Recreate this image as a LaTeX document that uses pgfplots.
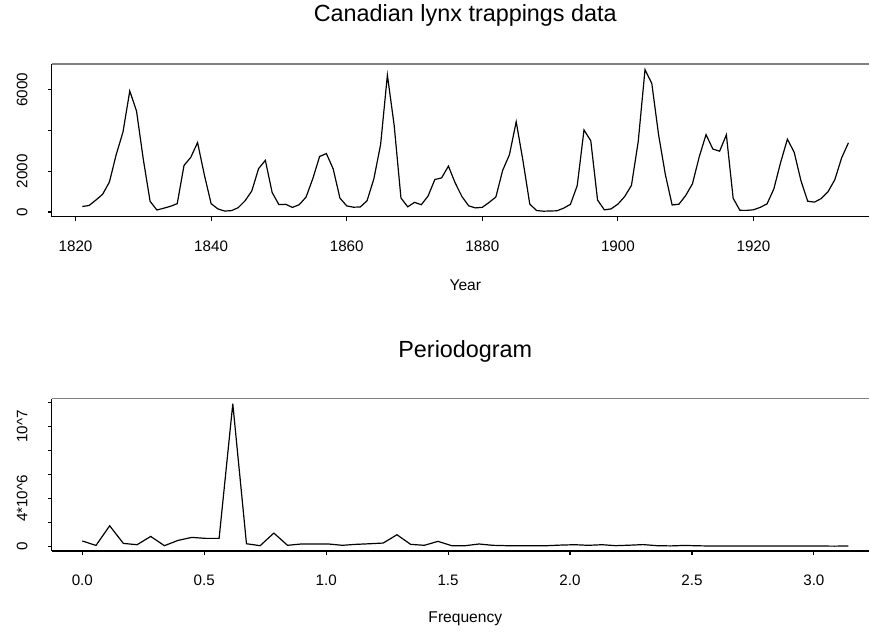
\documentclass[border=0pt]{standalone}
\usepackage{fontspec}
\setmainfont{Liberation Sans}
\usepackage{pgfplots}
\usepackage{pgfplotstable}
\pgfplotsset{compat=1.18}

\pgfplotstableread{
year lynx
1821 269
1822 321
1823 585
1824 871
1825 1475
1826 2821
1827 3928
1828 5943
1829 4950
1830 2577
1831 523
1832 98
1833 184
1834 279
1835 409
1836 2285
1837 2685
1838 3409
1839 1824
1840 409
1841 151
1842 45
1843 68
1844 213
1845 546
1846 1033
1847 2129
1848 2536
1849 957
1850 361
1851 377
1852 225
1853 360
1854 731
1855 1638
1856 2725
1857 2871
1858 2119
1859 684
1860 299
1861 236
1862 245
1863 552
1864 1623
1865 3311
1866 6721
1867 4254
1868 687
1869 255
1870 473
1871 358
1872 784
1873 1594
1874 1676
1875 2251
1876 1426
1877 756
1878 299
1879 201
1880 229
1881 469
1882 736
1883 2042
1884 2811
1885 4431
1886 2511
1887 389
1888 73
1889 39
1890 49
1891 59
1892 188
1893 377
1894 1292
1895 4031
1896 3495
1897 587
1898 105
1899 153
1900 387
1901 758
1902 1307
1903 3465
1904 6991
1905 6313
1906 3794
1907 1836
1908 345
1909 382
1910 808
1911 1388
1912 2713
1913 3800
1914 3091
1915 2985
1916 3790
1917 674
1918 81
1919 80
1920 108
1921 229
1922 399
1923 1132
1924 2432
1925 3574
1926 2935
1927 1537
1928 529
1929 485
1930 662
1931 1000
1932 1590
1933 2657
1934 3396
}\lynxdata

\pgfplotstableread{
freq pgram
0.0000 450000
0.0561 80000
0.1122 1720000
0.1683 250000
0.2244 140000
0.2805 830000
0.3366 60000
0.3927 500000
0.4488 750000
0.5049 670000
0.5610 670000
0.6171 11890000
0.6732 220000
0.7293 60000
0.7854 1110000
0.8415 90000
0.8976 200000
0.9537 200000
1.0098 200000
1.0659 90000
1.1220 170000
1.1781 220000
1.2342 280000
1.2903 970000
1.3464 170000
1.4025 90000
1.4586 420000
1.5147 60000
1.5708 60000
1.6269 200000
1.6830 90000
1.7391 60000
1.7952 60000
1.8513 60000
1.9074 60000
1.9635 110000
2.0196 140000
2.0757 90000
2.1318 140000
2.1879 60000
2.2440 100000
2.3001 150000
2.3562 60000
2.4123 40000
2.4684 80000
2.5245 50000
2.5806 30000
2.6367 30000
2.6928 30000
2.7489 30000
2.8050 30000
2.8611 30000
2.9172 40000
2.9733 40000
3.0294 30000
3.0855 20000
3.1416 40000
}\pgramdata

\pgfplotsset{
  Rstyle/.style={
    scale only axis,
    width=409.15pt,
    axis lines*=left,
    axis line style={-, line width=0.55pt},
    tick align=outside,
    major tick length=2pt,
    tick style={black, line width=0.55pt},
    clip=false,
    ticklabel style={font=\fontsize{7.6}{9}\selectfont},
    /pgf/number format/assume math mode=true,
    xticklabel style={anchor=center},
    xticklabel shift=12.8pt,
    yticklabel style={rotate=90, anchor=center},
    yticklabel shift=12.8pt,
  },
}

\begin{document}
\begin{tikzpicture}
\path (0pt,0pt) rectangle (435pt,316pt);

% ---- top panel ----
\begin{axis}[Rstyle,
  at={(25.85pt,207.5pt)}, anchor=south west,
  height=76.5pt,
  xmin=1816.48, xmax=1937.105,
  ymin=-239.08, ymax=7269.08,
  xtick={1820,1840,1860,1880,1900,1920},
  xticklabels={1820,1840,1860,1880,1900,1920},
  ytick={0,2000,4000,6000},
  yticklabels={0,2000,,6000},
]
\addplot[black, line width=0.6pt] table[x=year, y=lynx] {\lynxdata};
\draw[black!50, line width=0.55pt] (rel axis cs:0,1) -- (rel axis cs:1,1);
\end{axis}

% ---- bottom panel ----
\begin{axis}[Rstyle,
  at={(25.85pt,40.35pt)}, anchor=south west,
  height=76.15pt,
  xmin=-0.12566, xmax=3.2279,
  ymin=-380000, ymax=12310000,
  xtick={0,0.5,1,1.5,2,2.5,3},
  xticklabels={0.0,0.5,1.0,1.5,2.0,2.5,3.0},
  ytick={0,2000000,4000000,6000000,8000000,10000000,12000000},
  yticklabels={0,,4*10\textasciicircum 6,,,10\textasciicircum 7,},
  scaled ticks=false,
]
\addplot[black, line width=0.6pt] table[x=freq, y=pgram] {\pgramdata};
\draw[black!50, line width=0.55pt] (rel axis cs:0,1) -- (rel axis cs:1,1);
\end{axis}

\node[inner sep=0pt, font=\fontsize{11.7}{14}\selectfont] at (232.8pt,308.5pt) {Canadian lynx trappings data};
\node[inner sep=0pt, font=\fontsize{7.8}{9}\selectfont] at (232.8pt,173.5pt) {Year};
\node[inner sep=0pt, font=\fontsize{11.7}{14}\selectfont] at (232.8pt,140pt) {Periodogram};
\node[inner sep=0pt, font=\fontsize{7.8}{9}\selectfont] at (232.8pt,6.5pt) {Frequency};
\end{tikzpicture}
\end{document}
